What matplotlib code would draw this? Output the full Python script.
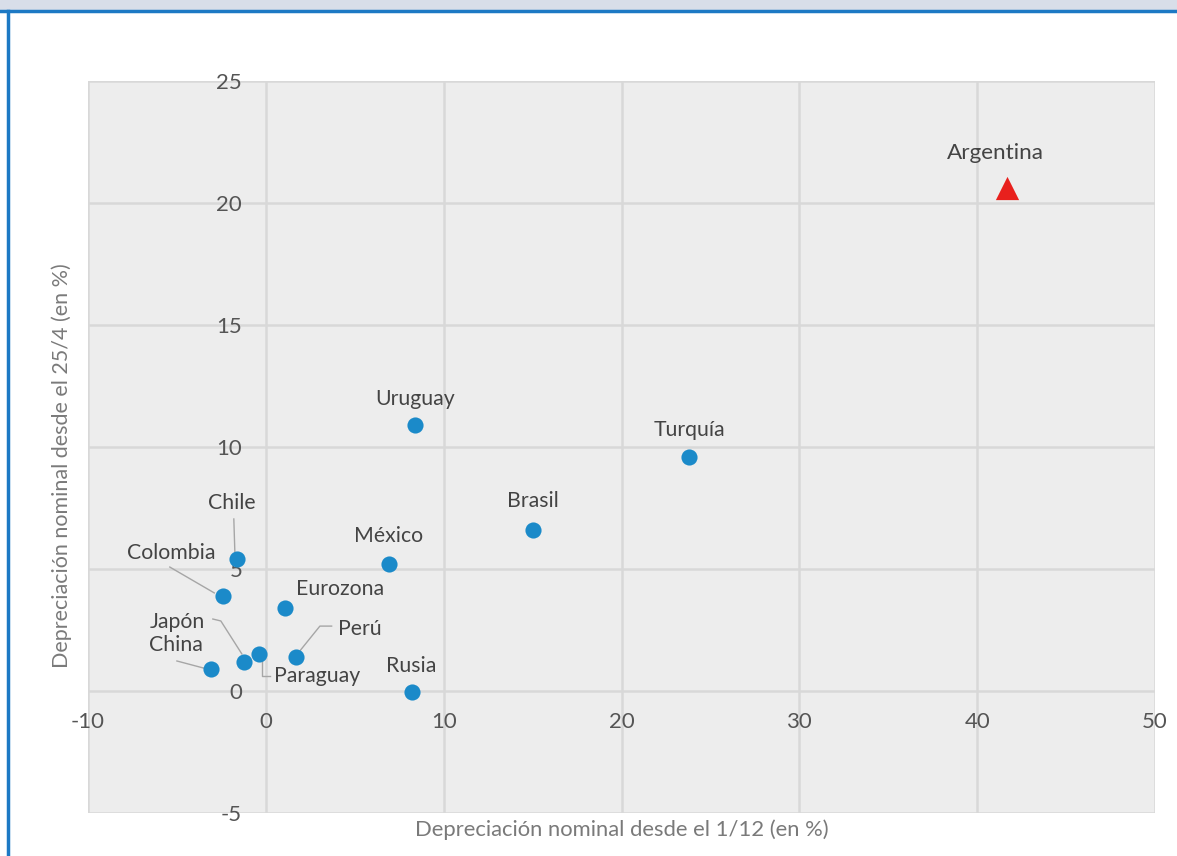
import matplotlib.pyplot as plt
from matplotlib.lines import Line2D
from matplotlib.patches import Rectangle

# data
countries = ['Uruguay', 'Turquía', 'Brasil', 'México', 'Chile', 'Colombia',
             'Eurozona', 'Perú', 'Paraguay', 'Japón', 'China', 'Rusia']
dep_dic = [8.4, 23.8, 15.0, 6.9, -1.6, -2.4, 1.1, 1.7, -0.4, -1.2, -3.1, 8.2]
dep_abr = [10.9, 9.6, 6.6, 5.2, 5.4, 3.9, 3.4, 1.4, 1.5, 1.2, 0.9, -0.05]

arg_name = 'Argentina'
arg_dic = 41.7
arg_abr = 20.6

xticks = [-10, 0, 10, 20, 30, 40, 50]
yticks = [-5, 0, 5, 10, 15, 20, 25]

# label placement (data coords) and leader lines where needed
label_pos = {
    'Uruguay': (8.4, 11.95), 'Turquía': (23.8, 10.7), 'Brasil': (15.0, 7.8),
    'México': (6.9, 6.35), 'Chile': (-1.9, 7.7), 'Colombia': (-5.3, 5.66),
    'Eurozona': (4.2, 4.18), 'Perú': (5.3, 2.54), 'Paraguay': (2.9, 0.61),
    'Japón': (-5.0, 2.83), 'China': (-5.05, 1.89), 'Rusia': (8.2, 1.02),
}
leaders = {
    'Chile': [(-1.8, 7.05), (-1.74, 5.65)],
    'Colombia': [(-5.4, 5.08), (-2.9, 4.02)],
    'Japón': [(-2.98, 2.95), (-2.53, 2.87), (-1.35, 1.52)],
    'China': [(-5.0, 1.23), (-3.5, 0.94)],
    'Paraguay': [(-0.22, 1.23), (-0.22, 0.61), (0.22, 0.61)],
    'Perú': [(3.7, 2.66), (3.04, 2.66), (1.91, 1.64)],
}

plt.rcParams['font.family'] = ['Lato', 'DejaVu Sans']
plt.rcParams['axes.unicode_minus'] = False

fig = plt.figure(figsize=(11.77, 8.56), dpi=100)
W, H = 1177, 856

# window frame: top strip and blue border
fig.patches.append(Rectangle((0, 1 - 9 / H), 1, 9 / H, transform=fig.transFigure,
                             color='#d8dee9', zorder=0))
fig.lines.append(Line2D([0, 1], [1 - 10.5 / H] * 2, transform=fig.transFigure,
                        color='#1d79c4', lw=2.5))
fig.lines.append(Line2D([7.5 / W] * 2, [0, 1 - 10.5 / H], transform=fig.transFigure,
                        color='#1d79c4', lw=2.5))

ax = fig.add_axes([88 / W, 1 - 813 / H, (1155 - 88) / W, (813 - 81) / H])
ax.set_facecolor('#ededed')
ax.set_xlim(-10, 50)
ax.set_ylim(-5, 25)
ax.set_xticks(xticks)
ax.set_yticks(yticks)
ax.grid(True, color='#d8d8d8', lw=1.8)
ax.set_axisbelow(True)
for s in ax.spines.values():
    s.set_visible(False)
ax.spines['left'].set_position(('data', 0))
ax.spines['bottom'].set_position(('data', 0))
ax.tick_params(axis='x', length=0, pad=15, labelsize=16, labelcolor='#555555')
ax.tick_params(axis='y', length=0, pad=17, labelsize=16, labelcolor='#555555')

ax.scatter(dep_dic, dep_abr, s=135, color='#1b8ac9', zorder=3, linewidths=0)
ax.scatter([arg_dic], [arg_abr], s=280, marker='^', color='#e8201d', zorder=3,
           linewidths=0)

for name in countries:
    lx, ly = label_pos[name]
    ax.text(lx, ly, name, ha='center', va='center', fontsize=15.3, color='#444444',
            zorder=4)
    if name in leaders:
        pts = leaders[name]
        ax.plot([p[0] for p in pts], [p[1] for p in pts], color='#a6a6a6',
                lw=1, zorder=2)

ax.text(41.0, 22.05, arg_name, ha='center', va='center', fontsize=16.2,
        color='#444444', zorder=4)

fig.text(622 / W, 1 - 830 / H, 'Depreciación nominal desde el 1/12 (en %)',
         ha='center', va='center', fontsize=15.8, color='#7a7a7a')
fig.text(62 / W, 1 - 466 / H, 'Depreciación nominal desde el 25/4 (en %)',
         ha='center', va='center', rotation=90, fontsize=15.5, color='#7a7a7a')

fig.savefig('out.png', dpi=100)
